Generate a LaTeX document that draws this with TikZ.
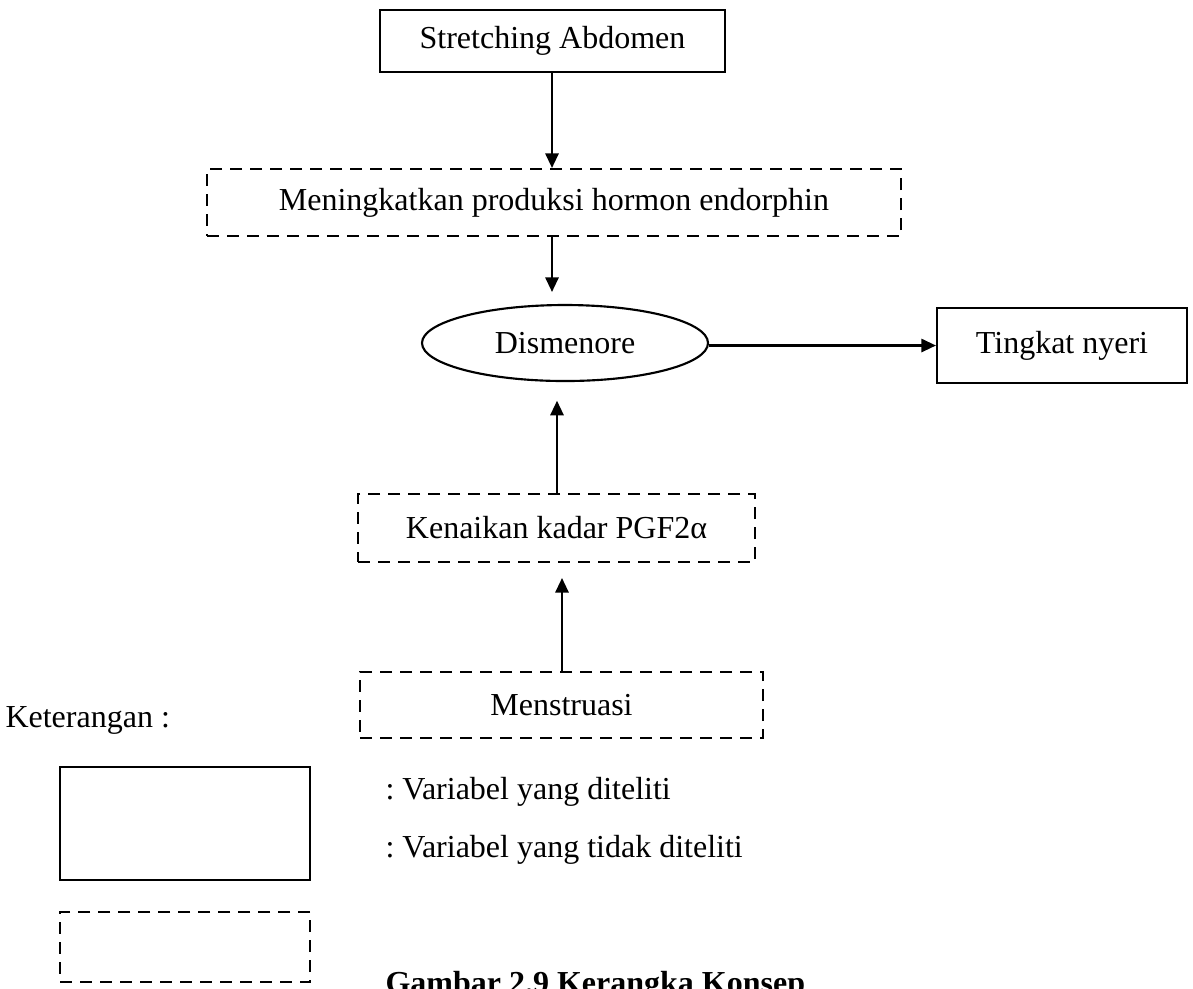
\documentclass[tikz,border=0pt]{standalone}
\usepackage{fontspec}
\setmainfont{Liberation Serif}
\usetikzlibrary{arrows.meta,shapes.geometric}
\def\pxu{0.375pt}
\begin{document}
\begin{tikzpicture}[x=0.375pt,y=-0.375pt,
  every node/.style={font=\fontsize{12pt}{14pt}\selectfont\frenchspacing, inner sep=0pt},
  solidbox/.style={draw, line width=0.8pt, rectangle},
  dashbox/.style={draw, line width=0.8pt, rectangle, dash pattern=on 4.5pt off 3pt},
  ovalbox/.style={draw, line width=0.8pt, ellipse},
  arr/.style={line width=0.8pt, -{Triangle[length=5.5pt,width=5pt]}},
  lbl/.style={anchor=west}]
\useasboundingbox (0,0) rectangle (1193,988);

\node[solidbox, minimum width=345*\pxu, minimum height=62*\pxu] (sa) at (552.5,41) {Stretching Abdomen};
\node[dashbox, minimum width=694*\pxu, minimum height=67*\pxu] (mp) at (554,202.5) {Meningkatkan produksi hormon endorphin};
\node[ovalbox, minimum width=286*\pxu, minimum height=76*\pxu] (dis) at (565,343) {Dismenore};
\node[solidbox, minimum width=250*\pxu, minimum height=75*\pxu] (tn) at (1062,345.5) {Tingkat nyeri};
\node[dashbox, minimum width=397*\pxu, minimum height=68*\pxu] (kk) at (556.5,528) {Kenaikan kadar PGF2α};
\node[dashbox, minimum width=403*\pxu, minimum height=66*\pxu] (me) at (561.5,705) {Menstruasi};

\coordinate (a1s) at (552,72);
\coordinate (a2s) at (552,236);
\coordinate (a3s) at (557,494);
\coordinate (a4s) at (562,672);

\draw[arr] (a1s) -- (a1s |- mp.north);
\draw[arr, shorten >=4.5pt] (a2s) -- (a2s |- dis.north);
\draw[arr] (dis.east |- tn.west) -- (tn.west);
\draw[arr, shorten >=7pt] (a3s) -- (a3s |- dis.south);
\draw[arr, shorten >=5.6pt] (a4s) -- (a4s |- kk.south);

\node[lbl] (ket) at (5,720) {Keterangan :};
\node[solidbox, minimum width=250*\pxu, minimum height=113*\pxu] (lg1) at (185,823.5) {};
\node[dashbox, minimum width=250*\pxu, minimum height=70*\pxu] (lg2) at (185,947) {};
\node[lbl] (t1) at (385,792) {: Variabel yang diteliti};
\node[lbl] (t2) at (385,850) {: Variabel yang tidak diteliti};
\node[anchor=base west] (cap) at (385,993) {\bfseries Gambar 2.9 Kerangka Konsep};
\end{tikzpicture}
\end{document}
